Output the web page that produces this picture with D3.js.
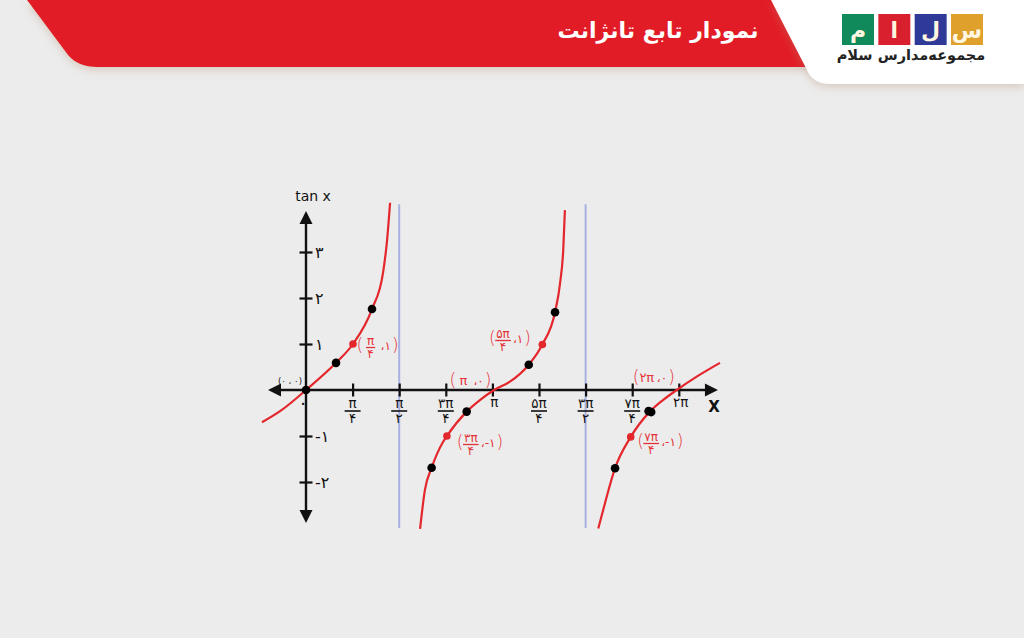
<!DOCTYPE html>
<html><head><meta charset="utf-8">
<script src="https://cdn.jsdelivr.net/npm/d3@7"></script>
<style>
html,body{margin:0;padding:0;background:#ececec;}
svg{display:block;font-family:"DejaVu Sans",sans-serif;}
</style>
</head><body>
<svg id="c" width="1024" height="638"></svg>
<script>
// ---------- data ----------
const titleText = "نمودار تابع تانژانت";
const logoLetters = ["م", "ا", "ل", "س"];
const logoCaption = "مجموعه‌مدارس سلام";
const yAxisTitle = "tan x";
const xAxisTitle = "X";
const originLabel = "۰";
const originPointLabel = "(۰ ، ۰)";

// x values are in multiples of π
const xTickValues = [0.25, 0.5, 0.75, 1, 1.25, 1.5, 1.75, 2];
const xTickNums  = ["π", "π", "۳π", "π", "۵π", "۳π", "۷π", "۲π"];
const xTickDens  = ["۴", "۲", "۴", "", "۴", "۲", "۴", ""];
const yTickValues = [-2, -1, 1, 2, 3];
const yTickLabels = ["-۲", "-۱", "۱", "۲", "۳"];
const asymptoteX = [0.5, 1.5];
const asymptoteSpan = [-3.0, 4.04];
const xAxisSpan = [-0.204, 2.21];
const yAxisSpan = [-2.89, 3.89];

// tangent branches
const branch1X = [-0.236, -0.139, 0, 0.161, 0.252, 0.354, 0.413, 0.435, 0.451];
const branch1Y = [-0.70, -0.46, 0, 0.59, 1.0, 1.76, 2.54, 3.26, 4.07];
const branch2X = [0.612, 0.638, 0.674, 0.735, 0.756, 0.862, 0.933, 1.009, 1.094, 1.195, 1.268, 1.336, 1.363, 1.380, 1.389];
const branch2Y = [-3.02, -2.17, -1.69, -1.13, -1.0, -0.47, -0.22, 0, 0.18, 0.55, 0.99, 1.69, 2.32, 3.04, 3.91];
const branch3X = [1.568, 1.604, 1.658, 1.742, 1.845, 1.915, 1.989, 2.096, 2.221];
const branch3Y = [-3.01, -2.46, -1.70, -1.02, -0.47, -0.22, 0, 0.29, 0.59];

const blackDotX = [0, 0.161, 0.354, 0.674, 0.862, 1.195, 1.336, 1.658, 1.838, 1.852];
const blackDotY = [0, 0.59, 1.76, -1.69, -0.47, 0.55, 1.69, -1.70, -0.46, -0.48];
const redDotX = [0.252, 0.756, 1.268, 1.742];
const redDotY = [1.0, -1.0, 0.99, -1.02];

// labelled points
const labelX   = [0.25, 1.25, 1, 0.75, 2, 1.75];
const labelY   = [1, 1, 0, -1, 0, -1];
const labelNum = ["π", "۵π", "π", "۳π", "۲π", "۷π"];
const labelDen = ["۴", "۴", "", "۴", "", "۴"];
const labelTail = ["،۱", "،۱", "،۰", "،-۱", "،۰", "،-۱"];

// ---------- layout ----------
const RED = "#e3272c";
const svg = d3.select("#c");
const defs = svg.append("defs");
const sh = defs.append("filter").attr("id","sh").attr("x","-10%").attr("y","-30%").attr("width","120%").attr("height","180%");
sh.append("feDropShadow").attr("dx",0).attr("dy",3).attr("stdDeviation",4).attr("flood-color","#b08a70").attr("flood-opacity",0.35);

svg.append("rect").attr("width",1024).attr("height",638).attr("fill","#ececec");

// header banner
svg.append("path")
  .attr("d","M27,0 L820,0 L820,67 L97,67 Q78,67 68,55 Z")
  .attr("fill","#e21f26").attr("filter","url(#sh)");
svg.append("text").text(titleText)
  .attr("x",658).attr("y",38).attr("text-anchor","middle")
  .attr("fill","#fff").attr("font-size",22).attr("font-weight","bold")
  .attr("direction","rtl");

// logo card
svg.append("path")
  .attr("d","M771,0 L1024,0 L1024,84 L830,84 Q812,84 806,68 Z")
  .attr("fill","#ffffff").attr("filter","url(#sh)");
const logoColors = ["#108a5a", "#d8202f", "#2f3a98", "#e0a12c"];
const logoBand = d3.scaleBand().domain(d3.range(logoLetters.length)).range([842, 983]).paddingInner(0.12);
const lg = svg.append("g");
lg.selectAll("rect").data(logoLetters).join("rect")
  .attr("x",(d,i)=>logoBand(i)).attr("y",14)
  .attr("width",logoBand.bandwidth()).attr("height",31)
  .attr("fill",(d,i)=>logoColors[i]);
lg.selectAll("text.l").data(logoLetters).join("text").attr("class","l")
  .attr("x",(d,i)=>logoBand(i)+logoBand.bandwidth()/2).attr("y",38)
  .attr("text-anchor","middle").attr("fill","#fff7e0")
  .attr("font-size",22).attr("font-weight","bold").text(d=>d);
svg.append("text").text(logoCaption)
  .attr("x",911).attr("y",60).attr("text-anchor","middle")
  .attr("font-size",14.5).attr("font-weight","bold").attr("fill","#222")
  .attr("direction","rtl");

// ---------- chart ----------
const x = d3.scaleLinear().domain([0, 2]).range([306, 678.8]);
const y = d3.scaleLinear().domain([0, 1]).range([390, 344]);
const g = svg.append("g");

// asymptotes
g.selectAll("line.asy").data(asymptoteX).join("line").attr("class","asy")
  .attr("x1",d=>x(d)).attr("x2",d=>x(d))
  .attr("y1",y(asymptoteSpan[1])).attr("y2",y(asymptoteSpan[0]))
  .attr("stroke","#a7b2e2").attr("stroke-width",2);

// axes lines
g.append("line").attr("x1",x(xAxisSpan[0])+8).attr("x2",x(xAxisSpan[1])-8)
  .attr("y1",y(0)).attr("y2",y(0)).attr("stroke","#111").attr("stroke-width",2.4);
g.append("line").attr("x1",x(0)).attr("x2",x(0))
  .attr("y1",y(yAxisSpan[1])+8).attr("y2",y(yAxisSpan[0])-8).attr("stroke","#111").attr("stroke-width",2.4);
// arrow heads
const ah = 13, aw = 6.5;
const xl = x(xAxisSpan[0]), xr = x(xAxisSpan[1]), yt = y(yAxisSpan[1]), yb = y(yAxisSpan[0]);
const x0 = x(0), y0 = y(0);
[
  [[xl,y0],[xl+ah,y0-aw],[xl+ah,y0+aw]],
  [[xr,y0],[xr-ah,y0-aw],[xr-ah,y0+aw]],
  [[x0,yt],[x0-aw,yt+ah],[x0+aw,yt+ah]],
  [[x0,yb],[x0-aw,yb-ah],[x0+aw,yb-ah]]
].forEach(p=>g.append("polygon").attr("points",p.map(q=>q.join(",")).join(" ")).attr("fill","#111"));

// ticks via d3 axes
const xAx = g.append("g").attr("transform",`translate(0,${y0-6.5})`)
  .call(d3.axisBottom(x).tickValues(xTickValues).tickSize(13).tickFormat(""));
xAx.select(".domain").remove();
xAx.selectAll(".tick line").attr("stroke","#111").attr("stroke-width",2.2);
const yAx = g.append("g").attr("transform",`translate(${x0+6.5},0)`)
  .call(d3.axisLeft(y).tickValues(yTickValues).tickSize(13).tickFormat(""));
yAx.select(".domain").remove();
yAx.selectAll(".tick line").attr("stroke","#111").attr("stroke-width",2.2);

// x tick labels (fractions)
xTickValues.forEach((v,i)=>{
  const cx = x(v);
  if (xTickDens[i]) {
    g.append("text").text(xTickNums[i]).attr("x",cx).attr("y",408).attr("text-anchor","middle").attr("font-size",13.5).attr("fill","#111");
    g.append("line").attr("x1",cx-8).attr("x2",cx+8).attr("y1",411).attr("y2",411).attr("stroke","#111").attr("stroke-width",1.6);
    g.append("text").text(xTickDens[i]).attr("x",cx).attr("y",423).attr("text-anchor","middle").attr("font-size",13.5).attr("fill","#111");
  } else {
    g.append("text").text(xTickNums[i]).attr("x",cx+2).attr("y",407).attr("text-anchor","middle").attr("font-size",13.5).attr("fill","#111");
  }
});
// y tick labels
yTickValues.forEach((v,i)=>{
  g.append("text").text(yTickLabels[i]).attr("x",x0+9).attr("y",y(v)+6)
   .attr("font-size",16).attr("fill","#111");
});
g.append("text").text(originLabel).attr("x",x0-3).attr("y",409).attr("text-anchor","middle").attr("font-size",18).attr("fill","#111");
g.append("text").text(originPointLabel).attr("x",x0-16).attr("y",384).attr("text-anchor","middle").attr("font-size",8.5).attr("fill","#111");
g.append("text").text(yAxisTitle).attr("x",x0+7).attr("y",201).attr("text-anchor","middle").attr("font-size",14).attr("fill","#111");
g.append("text").text(xAxisTitle).attr("x",x(xAxisSpan[1])-4).attr("y",412).attr("text-anchor","middle").attr("font-size",15).attr("font-weight","bold").attr("fill","#111");

// curves
const line = d3.line().x(d=>x(d[0])).y(d=>y(d[1])).curve(d3.curveMonotoneX);
[[branch1X,branch1Y],[branch2X,branch2Y],[branch3X,branch3Y]].forEach(([bx,by])=>{
  g.append("path").datum(bx.map((v,i)=>[v,by[i]])).attr("d",line)
   .attr("fill","none").attr("stroke",RED).attr("stroke-width",2.2);
});

// dots
g.selectAll("circle.b").data(blackDotX).join("circle").attr("class","b")
  .attr("cx",d=>x(d)).attr("cy",(d,i)=>y(blackDotY[i])).attr("r",4.3).attr("fill","#000");
g.selectAll("circle.r").data(redDotX).join("circle").attr("class","r")
  .attr("cx",d=>x(d)).attr("cy",(d,i)=>y(redDotY[i])).attr("r",3.8).attr("fill",RED);

// point labels
const labelOffsets = [[4,2],[-50,-5],[-43,-9],[11,7],[-46,-12],[5,6]];
const LRED = "#e5323a";
labelX.forEach((v,i)=>{
  const px = x(v) + labelOffsets[i][0];
  const py = y(labelY[i]) + labelOffsets[i][1];
  const lg2 = g.append("g").attr("fill",LRED);
  lg2.append("text").text("(").attr("x",px).attr("y",py+5).attr("font-size",17).attr("font-weight","300");
  const fc = px + 14;
  if (labelDen[i]) {
    const t = lg2.append("text").text(labelNum[i]).attr("x",fc).attr("y",py-1).attr("text-anchor","middle").attr("font-size",12);
    const w = t.node().getComputedTextLength();
    lg2.append("line").attr("x1",fc-w/2-1).attr("x2",fc+w/2+1).attr("y1",py+1.5).attr("y2",py+1.5).attr("stroke",LRED).attr("stroke-width",1.3);
    lg2.append("text").text(labelDen[i]).attr("x",fc).attr("y",py+12).attr("text-anchor","middle").attr("font-size",12);
  } else {
    lg2.append("text").text(labelNum[i]).attr("x",fc).attr("y",py+4).attr("text-anchor","middle").attr("font-size",13);
  }
  const tail = lg2.append("text").text(labelTail[i]).attr("x",px+24).attr("y",py+4).attr("font-size",12);
  const tw = tail.node().getComputedTextLength();
  lg2.append("text").text(")").attr("x",px+24+tw+1).attr("y",py+5).attr("font-size",17).attr("font-weight","300");
});
</script>
</body></html>
